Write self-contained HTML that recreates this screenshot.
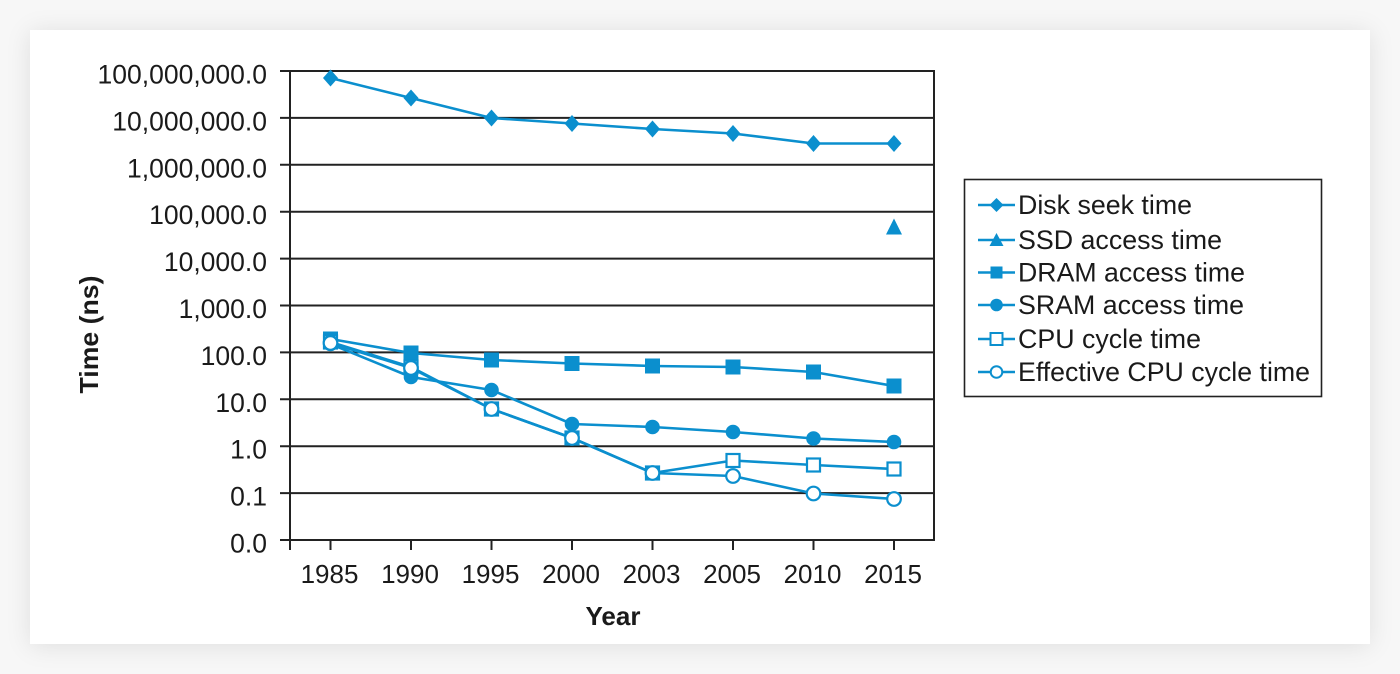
<!DOCTYPE html>
<html>
<head>
<meta charset="utf-8">
<style>
  html, body { margin:0; padding:0; }
  body { width:1400px; height:674px; background:#f7f7f7; position:relative; overflow:hidden; font-family:"Liberation Sans", Arial, sans-serif; }
  .card { position:absolute; left:30px; top:30px; width:1340px; height:614px; background:#fff; box-shadow:0 2px 24px rgba(0,0,0,0.10); }
  svg { position:absolute; left:0; top:0; }
  text { font-family:"Liberation Sans", Arial, sans-serif; fill:#1a1a1a; }
</style>
</head>
<body>
<div class="card"></div>
<svg width="1400" height="674" viewBox="0 0 1400 674" xmlns="http://www.w3.org/2000/svg">
  <!-- grid lines -->
  <g stroke="#222" stroke-width="2" fill="none">
    <line x1="280" y1="71" x2="934" y2="71"/>
    <line x1="280" y1="117.9" x2="934" y2="117.9"/>
    <line x1="280" y1="164.8" x2="934" y2="164.8"/>
    <line x1="280" y1="211.7" x2="934" y2="211.7"/>
    <line x1="280" y1="258.6" x2="934" y2="258.6"/>
    <line x1="280" y1="305.5" x2="934" y2="305.5"/>
    <line x1="280" y1="352.4" x2="934" y2="352.4"/>
    <line x1="280" y1="399.3" x2="934" y2="399.3"/>
    <line x1="280" y1="446.2" x2="934" y2="446.2"/>
    <line x1="280" y1="493.1" x2="934" y2="493.1"/>
    <line x1="280" y1="540" x2="934" y2="540"/>
    <line x1="290" y1="70" x2="290" y2="550"/>
    <line x1="934" y1="70" x2="934" y2="541"/>
    <!-- x ticks -->
    <line x1="330.5" y1="540" x2="330.5" y2="550"/>
    <line x1="411" y1="540" x2="411" y2="550"/>
    <line x1="491.5" y1="540" x2="491.5" y2="550"/>
    <line x1="572" y1="540" x2="572" y2="550"/>
    <line x1="652.5" y1="540" x2="652.5" y2="550"/>
    <line x1="733" y1="540" x2="733" y2="550"/>
    <line x1="813.5" y1="540" x2="813.5" y2="550"/>
    <line x1="894" y1="540" x2="894" y2="550"/>
  </g>

  <!-- y labels -->
  <g font-size="26.5" text-anchor="end">
    <text x="267" y="83.5">100,000,000.0</text>
    <text x="267" y="130.4">10,000,000.0</text>
    <text x="267" y="177.3">1,000,000.0</text>
    <text x="267" y="224.2">100,000.0</text>
    <text x="267" y="271.1">10,000.0</text>
    <text x="267" y="318">1,000.0</text>
    <text x="267" y="364.9">100.0</text>
    <text x="267" y="411.8">10.0</text>
    <text x="267" y="458.7">1.0</text>
    <text x="267" y="505.6">0.1</text>
    <text x="267" y="552.5">0.0</text>
  </g>

  <!-- x labels -->
  <g font-size="26" text-anchor="middle">
    <text x="329.5" y="583">1985</text>
    <text x="410" y="583">1990</text>
    <text x="490.5" y="583">1995</text>
    <text x="571" y="583">2000</text>
    <text x="651.5" y="583">2003</text>
    <text x="732" y="583">2005</text>
    <text x="812.5" y="583">2010</text>
    <text x="893" y="583">2015</text>
  </g>

  <!-- axis titles -->
  <text x="613" y="625" font-size="26" font-weight="bold" text-anchor="middle">Year</text>
  <text transform="translate(98,334.5) rotate(-90)" font-size="26" font-weight="bold" text-anchor="middle" textLength="118" lengthAdjust="spacingAndGlyphs">Time (ns)</text>

  <!-- series -->
  <g stroke="#0b8fce" stroke-width="2.6" fill="none" stroke-linejoin="round">
    <polyline points="330.5,78 411,98 491.5,118 572,123.5 652.5,129 733,133.5 813.5,143.5 894,143.5"/>
    <polyline points="330.5,339 411,353 491.5,360 572,363.5 652.5,366 733,367 813.5,372 894,386"/>
    <polyline points="330.5,344 411,377 491.5,390 572,424 652.5,427 733,432 813.5,438.5 894,442"/>
    <polyline points="330.5,342 411,367 491.5,409 572,438 652.5,473 733,460.5 813.5,465 894,469"/>
    <polyline points="330.5,343 411,368 491.5,409 572,438 652.5,473 733,476 813.5,493.5 894,499"/>
  </g>

  <g fill="#0b8fce">
    <!-- Disk diamonds -->
    <polygon points="330.5,69.5 338,78 330.5,86.5 323,78"/>
    <polygon points="411,89.5 418.5,98 411,106.5 403.5,98"/>
    <polygon points="491.5,109.5 499,118 491.5,126.5 484,118"/>
    <polygon points="572,115 579.5,123.5 572,132 564.5,123.5"/>
    <polygon points="652.5,120.5 660,129 652.5,137.5 645,129"/>
    <polygon points="733,125 740.5,133.5 733,142 725.5,133.5"/>
    <polygon points="813.5,135 821,143.5 813.5,152 806,143.5"/>
    <polygon points="894,135 901.5,143.5 894,152 886.5,143.5"/>
    <!-- SSD triangle -->
    <polygon points="894,218.5 902,234.5 886,234.5"/>
    <!-- DRAM squares -->
    <rect x="323" y="331.5" width="15" height="15"/>
    <rect x="403.5" y="345.5" width="15" height="15"/>
    <rect x="484" y="352.5" width="15" height="15"/>
    <rect x="564.5" y="356" width="15" height="15"/>
    <rect x="645" y="358.5" width="15" height="15"/>
    <rect x="725.5" y="359.5" width="15" height="15"/>
    <rect x="806" y="364.5" width="15" height="15"/>
    <rect x="886.5" y="378.5" width="15" height="15"/>
    <!-- SRAM circles -->
    <circle cx="330.5" cy="344" r="7.3"/>
    <circle cx="411" cy="377" r="7.3"/>
    <circle cx="491.5" cy="390" r="7.3"/>
    <circle cx="572" cy="424" r="7.3"/>
    <circle cx="652.5" cy="427" r="7.3"/>
    <circle cx="733" cy="432" r="7.3"/>
    <circle cx="813.5" cy="438.5" r="7.3"/>
    <circle cx="894" cy="442" r="7.3"/>
  </g>

  <g fill="#fff" stroke="#0b8fce" stroke-width="2.2">
    <!-- CPU open squares -->
    <rect x="324" y="335.5" width="13" height="13"/>
    <rect x="404.5" y="360.5" width="13" height="13"/>
    <rect x="485" y="402.5" width="13" height="13"/>
    <rect x="565.5" y="431.5" width="13" height="13"/>
    <rect x="646" y="466.5" width="13" height="13"/>
    <rect x="726.5" y="454" width="13" height="13"/>
    <rect x="807" y="458.5" width="13" height="13"/>
    <rect x="887.5" y="462.5" width="13" height="13"/>
    <!-- Effective CPU open circles -->
    <circle cx="330.5" cy="343" r="6.8"/>
    <circle cx="411" cy="368" r="6.8"/>
    <circle cx="491.5" cy="409" r="6.8"/>
    <circle cx="572" cy="438" r="6.8"/>
    <circle cx="652.5" cy="473" r="6.8"/>
    <circle cx="733" cy="476" r="6.8"/>
    <circle cx="813.5" cy="493.5" r="6.8"/>
    <circle cx="894" cy="499" r="6.8"/>
  </g>

  <!-- legend -->
  <rect x="964.5" y="179.5" width="357" height="217" fill="#fff" stroke="#222" stroke-width="1.6"/>
  <g stroke="#0b8fce" stroke-width="2.6">
    <line x1="978" y1="205" x2="1015" y2="205"/>
    <line x1="978" y1="240" x2="1015" y2="240"/>
    <line x1="978" y1="272.5" x2="1015" y2="272.5"/>
    <line x1="978" y1="305" x2="1015" y2="305"/>
    <line x1="978" y1="339" x2="1015" y2="339"/>
    <line x1="978" y1="372" x2="1015" y2="372"/>
  </g>
  <g fill="#0b8fce">
    <polygon points="996.5,198 1003.5,205 996.5,212 989.5,205"/>
    <polygon points="996.5,233 1003.5,246 989.5,246"/>
    <rect x="990.5" y="266.5" width="12" height="12"/>
    <circle cx="996.5" cy="305" r="6.3"/>
  </g>
  <g fill="#fff" stroke="#0b8fce" stroke-width="2">
    <rect x="990.5" y="333" width="12" height="12"/>
    <circle cx="996.5" cy="372" r="5.8"/>
  </g>
  <g font-size="26.5">
    <text x="1018" y="214" textLength="174" lengthAdjust="spacingAndGlyphs">Disk seek time</text>
    <text x="1018" y="249" textLength="204" lengthAdjust="spacingAndGlyphs">SSD access time</text>
    <text x="1018" y="281.5" textLength="227" lengthAdjust="spacingAndGlyphs">DRAM access time</text>
    <text x="1018" y="314" textLength="226" lengthAdjust="spacingAndGlyphs">SRAM access time</text>
    <text x="1018" y="348" textLength="183" lengthAdjust="spacingAndGlyphs">CPU cycle time</text>
    <text x="1018" y="381" textLength="292" lengthAdjust="spacingAndGlyphs">Effective CPU cycle time</text>
  </g>
</svg>
</body>
</html>
